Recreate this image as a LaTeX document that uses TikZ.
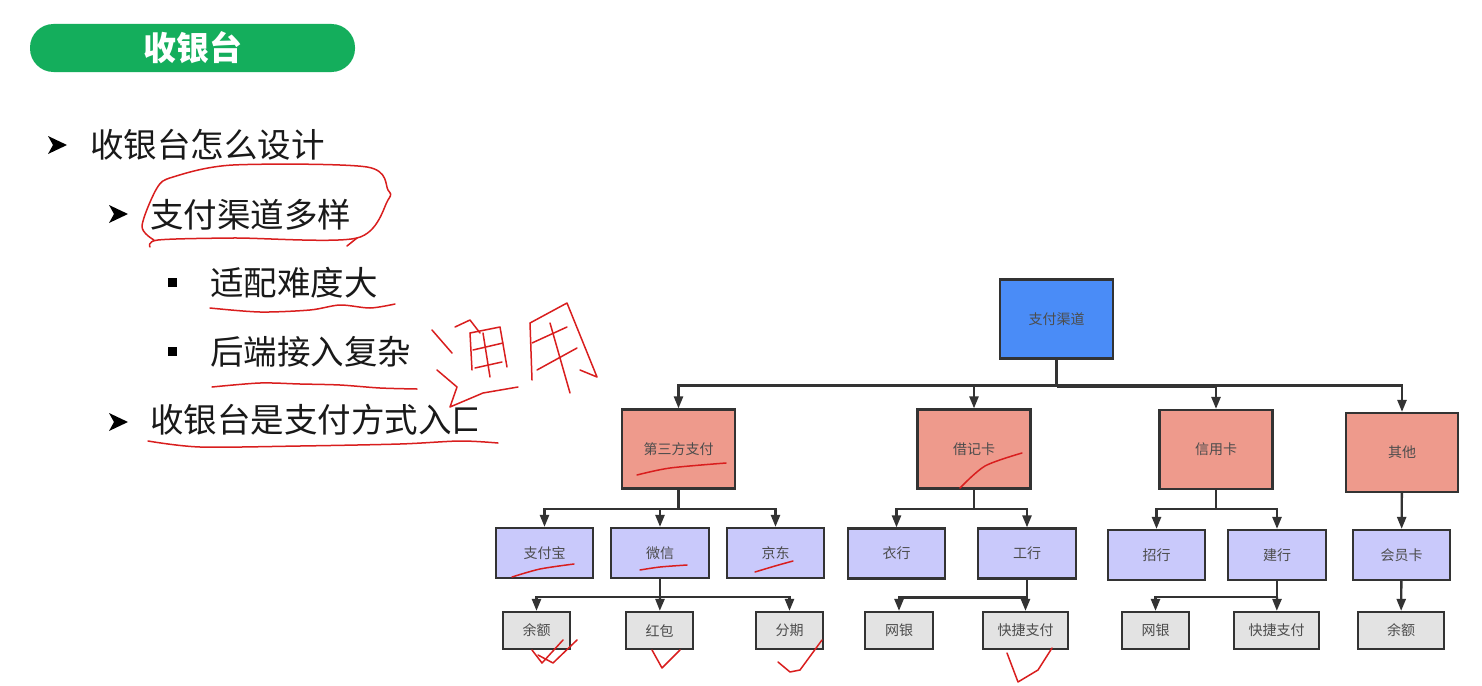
\documentclass[tikz,border=0pt]{standalone}
\usepackage{fontspec}
\setmainfont{Noto Sans CJK SC}
\usetikzlibrary{arrows.meta,positioning}

\definecolor{headgreen}{HTML}{14AE5C}
\definecolor{rootblue}{HTML}{4A8CF7}
\definecolor{catred}{HTML}{EE9A8C}
\definecolor{subblue}{HTML}{C9C9FB}
\definecolor{leafgray}{HTML}{E3E3E3}
\definecolor{linegray}{HTML}{333333}
\definecolor{penred}{HTML}{D91E1E}

\tikzset{
  bularrow/.pic={\fill (-9,-9) -- (10,0) -- (-9,9) -- (-4,0) -- cycle;},
  bullet/.style={anchor=west,inner sep=0pt,font=\fontsize{33.5}{34}\selectfont,text=black!90},
  box/.style={draw=linegray,line width=2.2pt,inner sep=0pt,
    font=\fontsize{14}{14}\selectfont,text=black!70},
  rootbox/.style={box,fill=rootblue,minimum width=113pt,minimum height=79pt},
  catbox/.style={box,fill=catred,minimum width=113pt,minimum height=79pt},
  subbox/.style={box,fill=subblue,minimum width=97pt,minimum height=50pt},
  leafbox/.style={box,fill=leafgray,minimum width=67pt,minimum height=37pt},
  link/.style={draw=linegray,line width=2.4pt,-{Triangle[length=12pt,width=9pt]}},
  pen/.style={draw=penred,line width=1.5pt,line cap=round,line join=round}
}

\begin{document}
\begin{tikzpicture}[x=1pt,y=-1pt]
  \useasboundingbox[fill=white] (0,0) rectangle (1482,685);

  % header
  \node[fill=headgreen,rounded corners=23.5pt,minimum width=325pt,minimum height=48pt,
    text=white,font=\fontsize{33}{33}\selectfont\bfseries] (head) at (192.5,48) {收银台};

  % bullet list
  \pic at (57,145) {bularrow};
  \node[bullet] (b1) at (90,145) {收银台怎么设计};
  \pic at (118,214) {bularrow};
  \node[bullet] (b2) at (150,215) {支付渠道多样};
  \fill (168,278) rectangle (177,287);
  \node[bullet] (b3) at (210,283) {适配难度大};
  \fill (168,347) rectangle (177,356);
  \node[bullet] (b4) at (210,352) {后端接入复杂};
  \pic at (118,422) {bularrow};
  \node[bullet] (b5) at (150,420) {收银台是支付方式入口};

  % diagram panel
  \fill[white] (477,258) rectangle (1482,685);

  % tree
  \node[rootbox] (root) at (1056.5,319) {支付渠道};

  \node[catbox] (third) at (678.5,449) {第三方支付};
  \node[catbox] (debit) at (974,449) {借记卡};
  \node[catbox] (credit) at (1216,449.5) {信用卡};
  \node[catbox,minimum width=112pt] (other) at (1402,452.5) {其他};

  \node[subbox] (alipay) at (544.5,553) {支付宝};
  \node[subbox,minimum width=98pt] (wechat) at (660,553) {微信};
  \node[subbox] (jd) at (775.5,553) {京东};
  \node[subbox] (abc) at (896.5,553.5) {衣行};
  \node[subbox,minimum width=98pt] (icbc) at (1027,553.5) {工行};
  \node[subbox] (cmb) at (1156.5,555) {招行};
  \node[subbox,minimum width=98pt] (ccb) at (1277,555) {建行};
  \node[subbox] (member) at (1401.5,555) {会员卡};

  \node[leafbox] (balance) at (536.5,630.5) {余额};
  \node[leafbox] (redpack) at (659.5,630.5) {红包};
  \node[leafbox] (install) at (789.5,630.5) {分期};
  \node[leafbox,minimum width=68pt] (netA) at (899,630.5) {网银};
  \node[leafbox,minimum width=85pt] (quickA) at (1025.5,630.5) {快捷支付};
  \node[leafbox] (netB) at (1155.5,630.5) {网银};
  \node[leafbox,minimum width=85pt] (quickB) at (1276.5,630.5) {快捷支付};
  \node[leafbox,minimum width=86pt] (memberbal) at (1401,630.5) {余额};

  % connectors
  \path (root.south) ++(0,26) coordinate (rbus);
  \draw[link] (rbus) -| (third);
  \draw[link] (rbus) -| (debit);
  \draw[link] (rbus) -| (credit);
  \draw[link] (rbus) -| (other);
  \draw[draw=linegray,line width=2.4pt] (root) -- (rbus);
  \draw[draw=linegray,line width=4pt] (rbus) -- (rbus -| credit);

  \path (third.south) ++(0,19.5) coordinate (tbus);
  \draw[link] (third) |- (tbus) -| (alipay);
  \draw[link] (tbus) -| (wechat);
  \draw[link] (tbus) -| (jd);
  \path (debit.south) ++(0,19.5) coordinate (dbus);
  \draw[link] (debit) |- (dbus) -| (abc);
  \draw[link] (dbus) -| (icbc);
  \path (credit.south) ++(0,19) coordinate (cbus);
  \draw[link] (credit) |- (cbus) -| (cmb);
  \draw[link] (cbus) -| (ccb);
  \draw[link] (other) -- (member);

  \path (wechat.south) ++(0,18) coordinate (wbus);
  \draw[link] (wechat) |- (wbus) -| (balance);
  \draw[link] (wbus) -- (redpack);
  \draw[link] (wbus) -| (install);
  \path (icbc.south) ++(0,18) coordinate (ibus);
  \draw[link] (icbc) |- (ibus) -| (netA);
  \draw[link] (ibus) -| (quickA);
  \path (ccb.south) ++(0,16) coordinate (bbus);
  \draw[link] (ccb) |- (bbus) -| (netB);
  \draw[link] (bbus) -- (quickB);
  \draw[link] (member) -- (memberbal);

  % handwritten marks
  \draw[pen] plot[smooth] coordinates {(150,247) (158,240) (233,238) (357,238) (388,200)
    (388,190) (367,167) (233,165) (173,177) (157,188) (142,226) (154,240)};
  \draw[pen] (357,238) -- (347,246);
  \draw[pen] plot[smooth] coordinates {(210,308) (260,312) (310,310) (340,305) (370,308) (395,304)};
  \draw[pen] plot[smooth] coordinates {(212,387) (260,383) (300,384) (340,385) (380,388) (417,389)};
  \draw[pen] plot[smooth] coordinates {(148,441) (200,447) (300,446) (400,444) (460,441) (498,443)};
  % tong yong
  \draw[pen] (432,330) -- (452,353);
  \draw[pen] (437,370) -- (457,387) -- (450,407) -- (483,393) -- (518,387);
  \draw[pen] (455,327) -- (470,320) -- (480,333);
  \draw[pen] (470,333) -- (472,370);
  \draw[pen] (470,333) -- (500,327) -- (507,367);
  \draw[pen] (473,350) -- (503,343);
  \draw[pen] (475,368) -- (502,362);
  \draw[pen] (483,333) -- (490,377);
  \draw[pen] (530,323) -- (532,380);
  \draw[pen] (530,323) -- (567,303) -- (597,377) -- (580,370);
  \draw[pen] (532,343) -- (567,327);
  \draw[pen] (537,370) -- (577,348);
  \draw[pen] (550,323) -- (570,393);
  % marks on boxes
  \draw[pen] plot[smooth] coordinates {(637,475) (670,468) (726,463)};
  \draw[pen] plot[smooth] coordinates {(960,488) (985,466) (1022,453)};
  \draw[pen] plot[smooth] coordinates {(512,577) (540,569) (574,564)};
  \draw[pen] plot[smooth] coordinates {(640,570) (660,567) (687,565)};
  \draw[pen] plot[smooth] coordinates {(755,572) (775,566) (793,561)};
  \draw[pen] (532,650) -- (542,663) -- (563,640);
  \draw[pen] (538,655) -- (553,663) -- (577,640);
  \draw[pen] (652,650) -- (662,668) -- (680,650);
  \draw[pen] (778,662) -- (790,672) -- (800,670) -- (822,640);
  \draw[pen] (1007,653) -- (1018,682) -- (1038,670) -- (1052,648);
\end{tikzpicture}
\end{document}
